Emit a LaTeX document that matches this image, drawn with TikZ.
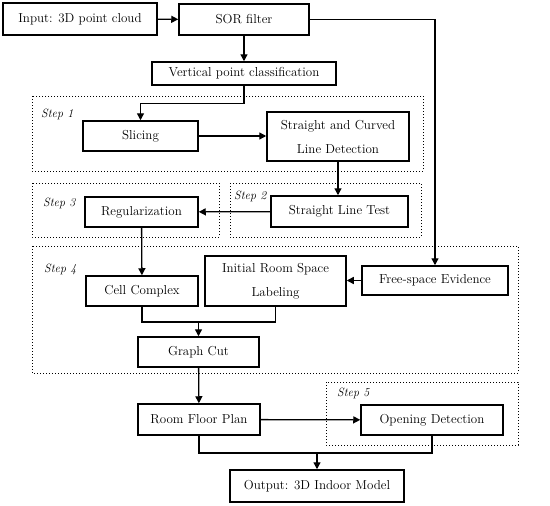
\documentclass[tikz,border=0pt]{standalone}
\usetikzlibrary{arrows.meta}
\begin{document}
\begin{tikzpicture}[x=1pt,y=-1pt,
                    line/.style={line width=1.3pt},
                    arr/.style={line,-{Triangle[length=7pt,width=7pt]}},
                    box/.style={draw,line width=1.5pt,align=center,inner sep=0pt},
                    stepbox/.style={draw,dotted,line width=1pt},
                    steplabel/.style={anchor=west,font=\fontsize{12}{14}\selectfont\itshape,inner sep=0pt},
                    every node/.style={font=\fontsize{13}{24}\selectfont}]
 \useasboundingbox (0,0) rectangle (550,506);
 % dotted step frames
 \draw[stepbox] (32,96) rectangle (423,171);
 \draw[stepbox] (32,183) rectangle (219,237);
 \draw[stepbox] (230,183) rectangle (421,237);
 \draw[stepbox] (32,246) rectangle (518,373);
 \draw[stepbox] (326,382) rectangle (518,445);
 \node[steplabel] (s1) at (41,114) {Step 1};
 \node[steplabel] (s2) at (234,196) {Step 2};
 \node[steplabel] (s3) at (43,203) {Step 3};
 \node[steplabel] (s4) at (44,269) {Step 4};
 \node[steplabel] (s5) at (337,393) {Step 5};
 % boxes
 \node[box,minimum width=154,minimum height=32] (input) at (80,19) {Input: 3D point cloud};
 \node[box,minimum width=130,minimum height=31] (sor) at (244,19.5) {SOR filter};
 \node[box,minimum width=184,minimum height=23] (vpc) at (244,73.5) {Vertical point classification};
 \node[box,minimum width=115,minimum height=30] (slicing) at (140.5,136) {Slicing};
 \node[box,minimum width=142,minimum height=49] (scld) at (338,136.5) {Straight and Curved\\Line Detection};
 \node[box,minimum width=137,minimum height=31] (slt) at (339.5,211.5) {Straight Line Test};
 \node[box,minimum width=113,minimum height=30] (reg) at (141.5,212) {Regularization};
 \node[box,minimum width=112,minimum height=30] (cell) at (142,291) {Cell Complex};
 \node[box,minimum width=141,minimum height=50] (irsl) at (275.5,281) {Initial Room Space\\Labeling};
 \node[box,minimum width=146,minimum height=29] (fse) at (435,280.5) {Free-space Evidence};
 \node[box,minimum width=121,minimum height=30] (gcut) at (198.5,352) {Graph Cut};
 \node[box,minimum width=122,minimum height=31] (rfp) at (199,419.5) {Room Floor Plan};
 \node[box,minimum width=142,minimum height=30] (open) at (432,420) {Opening Detection};
 \node[box,minimum width=174,minimum height=32] (output) at (317,486) {Output: 3D Indoor Model};
 \coordinate (m1) at (198.5,322);
 \coordinate (m2) at (317,453);
 % connectors
 \draw[arr] (input) -- (sor);
 \draw[arr] (sor) -- (vpc);
 \draw[arr] (sor.east) -| (fse.north);
 \draw[arr] (vpc.south) -- ++(0,18) -| (slicing.north);
 \draw[arr] (slicing) -- (scld.west |- slicing);
 \draw[arr] (scld.south) -- (scld.south |- slt.north);
 \draw[arr] (slt) -- (reg);
 \draw[arr] (reg) -- (cell);
 \draw[arr] (fse) -- (irsl.east |- fse);
 \draw[line] (cell.south) |- (m1) -| (irsl.south);
 \draw[arr] (m1) -- (gcut.north);
 \draw[arr] (gcut) -- (rfp);
 \draw[arr] (rfp) -- (open);
 \draw[line] (rfp.south) |- (m2) -| (open.south);
 \draw[arr] (m2) -- (output.north);
\end{tikzpicture}
\end{document}
